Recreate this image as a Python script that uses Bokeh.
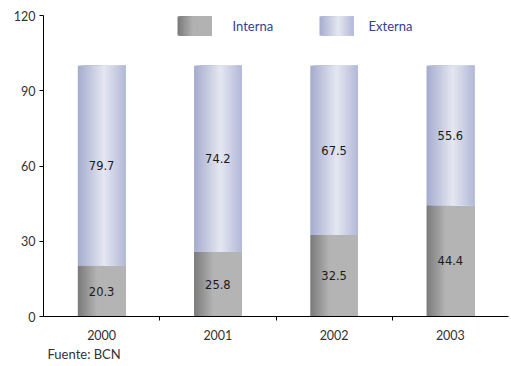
from bokeh.plotting import figure
from bokeh.models import FixedTicker, Range1d, Title
from bokeh.embed import file_html
from bokeh.resources import INLINE
from bokeh.core.properties import value

years = ["2000", "2001", "2002", "2003"]
interna = [20.3, 25.8, 32.5, 44.4]
externa = [79.7, 74.2, 67.5, 55.6]
y_ticks = [0, 30, 60, 90, 120]

def lerp(c1, c2, t):
    return "#%02x%02x%02x" % tuple(int(round(a + (b - a) * t)) for a, b in zip(c1, c2))

def interna_color(t):
    dark, light = (0x7c, 0x7c, 0x7c), (0xb4, 0xb4, 0xb4)
    return lerp(dark, light, min(t / 0.4, 1.0))

def externa_color(t):
    left, mid, right = (0xa6, 0xad, 0xcf), (0xe5, 0xe7, 0xf1), (0xb4, 0xba, 0xd8)
    if t < 0.55:
        return lerp(left, mid, t / 0.55)
    return lerp(mid, right, (t - 0.55) / 0.45)

p = figure(width=510, height=364, output_backend="svg", toolbar_location=None,
           x_range=Range1d(-0.5, 3.5), y_range=Range1d(0, 120),
           min_border_left=43, min_border_right=2, min_border_top=15, min_border_bottom=48)
p.outline_line_color = None
p.xgrid.visible = False
p.ygrid.visible = False

N = 40
bw = 0.41

def gradient_rect(x0, x1, y0, y1, colorfn):
    lefts, rights, bottoms, tops, colors = [], [], [], [], []
    for k in range(N):
        t = k / (N - 1)
        lefts.append(x0 + (x1 - x0) * k / N)
        rights.append(x1)
        bottoms.append(y0)
        tops.append(y1)
        colors.append(colorfn(t))
    p.quad(left=lefts, right=rights, bottom=bottoms, top=tops,
           fill_color=colors, line_color=None)

for i, (a, b) in enumerate(zip(interna, externa)):
    gradient_rect(i - bw / 2, i + bw / 2, 0, a, interna_color)
    gradient_rect(i - bw / 2, i + bw / 2, a, a + b, externa_color)

xs = list(range(len(years)))
p.text(x=xs, y=[a / 2 for a in interna], text=[f"{a:.1f}" for a in interna],
       text_align="center", text_baseline="middle", text_font=value("DejaVu Sans"),
       text_font_size="11.5px", text_color="#1a1a1a")
p.text(x=xs, y=[a + b / 2 for a, b in zip(interna, externa)], text=[f"{b:.1f}" for b in externa],
       text_align="center", text_baseline="middle", text_font=value("DejaVu Sans"),
       text_font_size="11.5px", text_color="#1a1a1a")

# legend (custom, gradient swatches)
def legend_interna(t):
    return lerp((0x7a, 0x7a, 0x7a), (0xb2, 0xb2, 0xb2), min(t / 0.45, 1.0))

gradient_rect(0.653, 0.945, 112.0, 119.6, legend_interna)
gradient_rect(1.874, 2.167, 112.0, 119.6, externa_color)
p.text(x=[1.126, 2.296], y=[115.8, 115.8], text=["Interna", "Externa"],
       text_align="left", text_baseline="middle", text_font=value("Lato"),
       text_font_size="13px", text_color="#34418f")

# axes
p.xaxis.ticker = FixedTicker(ticks=xs, minor_ticks=[0.5, 1.5, 2.5])
p.xaxis.major_label_overrides = {i: y for i, y in enumerate(years)}
p.xaxis.major_tick_out = 0
p.xaxis.major_tick_in = 0
p.xaxis.minor_tick_out = 4
p.xaxis.minor_tick_in = 0
p.xaxis.major_label_standoff = 9

p.yaxis.ticker = FixedTicker(ticks=y_ticks)
p.yaxis.major_tick_out = 4
p.yaxis.major_tick_in = 0
p.yaxis.minor_tick_out = 0
p.yaxis.minor_tick_in = 0
p.yaxis.major_label_standoff = 4

for ax in (p.xaxis, p.yaxis):
    ax.axis_line_color = "#000000"
    ax.major_tick_line_color = "#000000"
    ax.minor_tick_line_color = "#000000"
    ax.major_label_text_font = "Lato"
    ax.major_label_text_font_size = "12.5px"
    ax.major_label_text_color = "#333333"

p.add_layout(Title(text="Fuente: BCN", align="left", offset=4, standoff=2,
                   text_font="Lato", text_font_size="13px", text_color="#333333",
                   text_font_style="normal"), "below")

open("out.html", "w").write(file_html(p, INLINE))
